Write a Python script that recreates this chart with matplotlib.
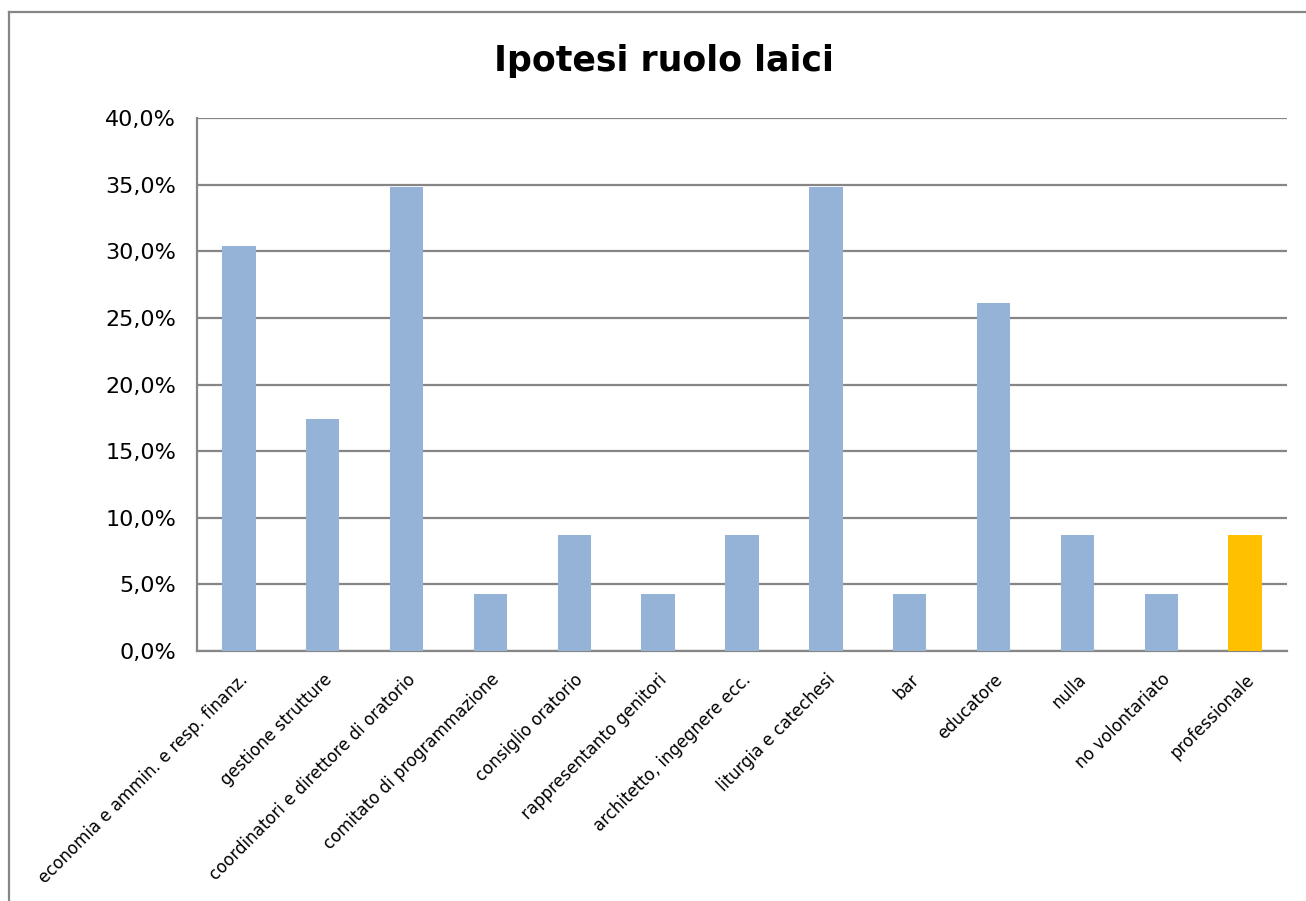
import matplotlib.pyplot as plt
from matplotlib.lines import Line2D
from matplotlib.ticker import FuncFormatter

categories = [
    'economia e ammin. e resp. finanz.',
    'gestione strutture',
    'coordinatori e direttore di oratorio',
    'comitato di programmazione',
    'consiglio oratorio',
    'rappresentanto genitori',
    'architetto, ingegnere ecc.',
    'liturgia e catechesi',
    'bar',
    'educatore',
    'nulla',
    'no volontariato',
    'professionale',
]
values = [30.4, 17.4, 34.8, 4.3, 8.7, 4.3, 8.7, 34.8, 4.3, 26.1, 8.7, 4.3, 8.7]
highlight = 'professionale'

blue = '#95B3D7'
orange = '#FFC000'
grey = '#868686'

plt.rcParams['font.family'] = ['DejaVu Sans']

fig = plt.figure(figsize=(13.06, 9.01), dpi=100)
ax = fig.add_axes([0.1508, 0.2775, 0.8347, 0.5915])

colors = [orange if c == highlight else blue for c in categories]
x = list(range(len(categories)))
ax.bar(x, values, width=0.4, color=colors, zorder=3)

ax.set_xlim(-0.5, len(categories) - 0.5)
ax.set_ylim(0, 40)
ax.set_yticks([0, 5, 10, 15, 20, 25, 30, 35, 40])
ax.yaxis.set_major_formatter(FuncFormatter(lambda v, p: ('%.1f%%' % v).replace('.', ',')))
ax.tick_params(axis='y', labelsize=16, length=0, pad=15)
ax.set_xticks(x)
ax.set_xticklabels(categories, rotation=45, ha='right', rotation_mode='anchor', fontsize=12)
ax.tick_params(axis='x', length=0, pad=14)

ax.yaxis.grid(True, color=grey, linewidth=1.6, zorder=0)
for s in ['top', 'right']:
    ax.spines[s].set_visible(False)
for s in ['left', 'bottom']:
    ax.spines[s].set_color(grey)
    ax.spines[s].set_linewidth(1.6)

fig.text(0.508, 0.932, 'Ipotesi ruolo laici', ha='center', va='center',
         fontsize=25, fontweight='bold')

# outer chart border (left and top only visible)
fig.add_artist(Line2D([0.0069, 0.0069], [0, 0.9867], color=grey, linewidth=1.6))
fig.add_artist(Line2D([0.0069, 1], [0.9867, 0.9867], color=grey, linewidth=1.6))

fig.savefig('out.png', dpi=100)
